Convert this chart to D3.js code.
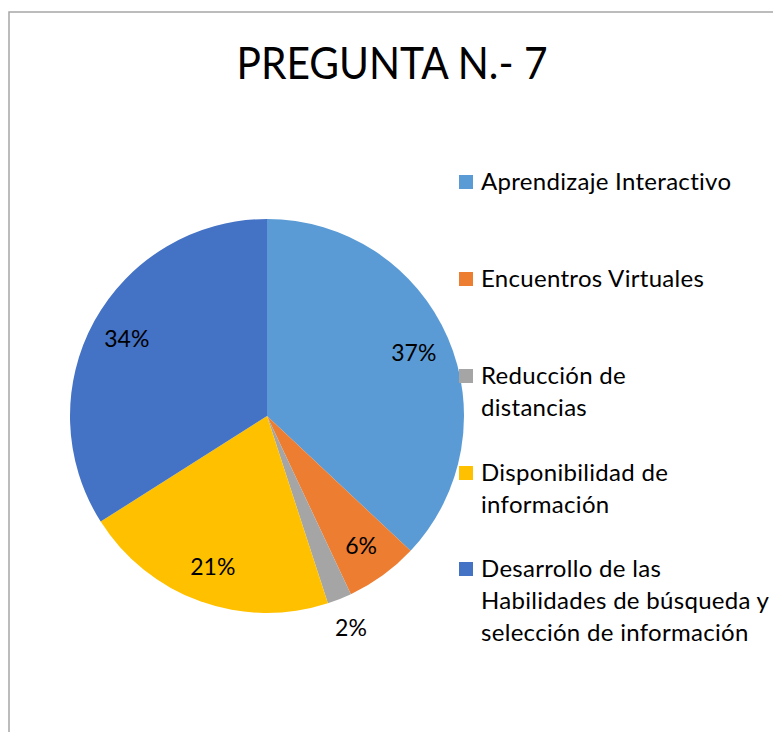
<!DOCTYPE html>
<html>
<head>
<meta charset="utf-8">
<script src="https://cdn.jsdelivr.net/npm/d3@7"></script>
<style>
  body { margin: 0; background: #fff; }
  text { font-family: Lato, "Noto Sans", sans-serif; fill: #000; }
</style>
</head>
<body>
<svg id="chart" width="773" height="732"></svg>
<script>
// datos del grafico
var titulo = "PREGUNTA N.- 7";
var categorias = ["Aprendizaje Interactivo", "Encuentros Virtuales", "Reducción de distancias",
                  "Disponibilidad de información", "Desarrollo de las Habilidades de búsqueda y selección de información"];
var valores = [37, 6, 2, 21, 34];
// como se parte cada texto de la leyenda
var leyendaLineas = [
  ["Aprendizaje Interactivo"],
  ["Encuentros Virtuales"],
  ["Reducción de", "distancias"],
  ["Disponibilidad de", "información"],
  ["Desarrollo de las", "Habilidades de búsqueda y", "selección de información"]
];
var colores = ["#5B9BD5", "#ED7D31", "#A5A5A5", "#FFC000", "#4472C4"];

var svg = d3.select("#chart");

// borde del area del grafico (se sale por la derecha y abajo)
svg.append("rect")
  .attr("x", 9).attr("y", 12)
  .attr("width", 800).attr("height", 800)
  .attr("fill", "none")
  .attr("stroke", "#a6a6a6")
  .attr("stroke-width", 1.5);

// titulo
svg.append("text")
  .attr("x", 392).attr("y", 79)
  .attr("text-anchor", "middle")
  .attr("font-size", 44)
  .attr("textLength", 311)
  .attr("lengthAdjust", "spacingAndGlyphs")
  .text(titulo);

var cx = 267, cy = 416, radio = 197;
var g = svg.append("g").attr("transform", "translate(" + cx + "," + cy + ")");

var color = d3.scaleOrdinal().domain(categorias).range(colores);

var pie = d3.pie().sort(null).value(function(d, i) { return valores[i]; });
var arcos = pie(categorias);

var arc = d3.arc().innerRadius(0).outerRadius(radio);
var arcoEtiqueta = d3.arc().innerRadius(160).outerRadius(160);
var arcoFuera = d3.arc().innerRadius(228).outerRadius(228);

g.selectAll("path")
  .data(arcos)
  .enter()
  .append("path")
  .attr("d", arc)
  .attr("fill", function(d) { return color(d.data); });

// porcentajes, los pequeños van por fuera
g.selectAll(".etiqueta")
  .data(arcos)
  .enter()
  .append("text")
  .attr("class", "etiqueta")
  .attr("transform", function(d) {
    var p = (d.value < 5 ? arcoFuera : arcoEtiqueta).centroid(d);
    return "translate(" + p[0] + "," + p[1] + ")";
  })
  .attr("text-anchor", "middle")
  .attr("dy", "0.35em")
  .attr("font-size", 23)
  .text(function(d) { return d.value + "%"; });

// leyenda
var leyY = [182, 279, 376, 473, 569];
var leyenda = svg.append("g");
var item = leyenda.selectAll("g")
  .data(categorias)
  .enter()
  .append("g")
  .attr("transform", function(d, i) { return "translate(459," + leyY[i] + ")"; });

item.append("rect")
  .attr("x", 0).attr("y", -7)
  .attr("width", 14).attr("height", 14)
  .attr("fill", function(d) { return color(d); });

item.each(function(d, i) {
  var t = d3.select(this).append("text")
    .attr("x", 22).attr("y", 0)
    .attr("font-size", 24)
    .attr("letter-spacing", 0.3);
  leyendaLineas[i].forEach(function(linea, j) {
    t.append("tspan")
      .attr("x", 22)
      .attr("y", j * 32)
      .attr("dy", "0.35em")
      .text(linea);
  });
});
</script>
</body>
</html>
